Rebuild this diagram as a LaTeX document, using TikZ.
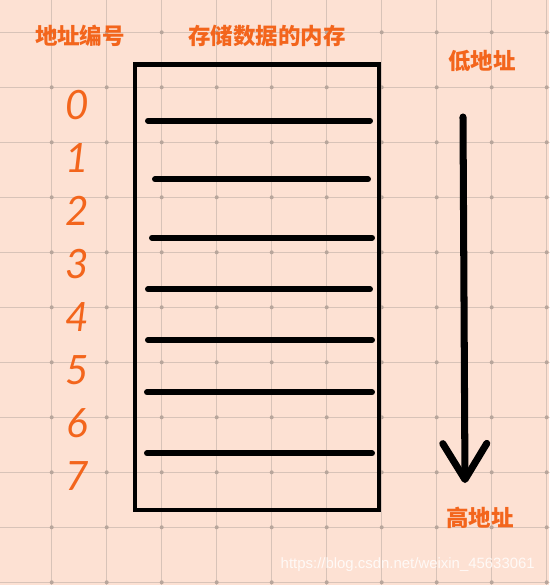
\documentclass[tikz,border=0pt]{standalone}
\usepackage{fontspec}
\newfontfamily\cjk{Noto Sans CJK SC}
\newfontfamily\wmfont{Liberation Sans}
\newfontfamily\digitfont{Lato}
\usetikzlibrary{arrows.meta,positioning}
\definecolor{bgpeach}{HTML}{FDE1D3}
\definecolor{gridgrey}{HTML}{D8C3B8}
\definecolor{addrorange}{HTML}{F3651C}

\begin{document}
\begin{tikzpicture}[x=0.02cm,y=-0.02cm,line cap=round,>={Straight Barb[length=0.72cm,width=0.88cm,round]}]
    \tikzset {
      node distance=1.06cm,
      title/.style={text=addrorange,font=\cjk\bfseries\fontsize{12.8}{14}\selectfont},
      digit/.style={text=addrorange,font=\digitfont\itshape\fontsize{23}{25}\selectfont},
      cell/.style={line width=3.4pt},
      gridline/.style={draw=gridgrey,line width=0.7pt}
    }
    \fill [bgpeach] (0,0) rectangle (549,585);
    \useasboundingbox (0,0) rectangle (549,585);
    % grid paper
    \foreach \i in {0,...,9} \draw [gridline] (51.7+55*\i,0) -- (51.7+55*\i,585);
    \foreach \j in {0,...,10} \draw [gridline] (0,32.3+55*\j) -- (549,32.3+55*\j);
    \foreach \i in {0,...,9} \foreach \j in {0,...,10} \fill [gridgrey!85!black] (51.7+55*\i,32.3+55*\j) circle [radius=2];

    \node [draw,line width=2.8pt,minimum width=4.88cm,minimum height=8.92cm,inner sep=0pt] (mem) at (257,287) {};
    \foreach \a/\b/\c in {148/120.7/370,155/179.3/368,152/237.7/372,148/289.3/370,148/340/372,147/392.3/372,147/453.3/372}
      \draw [cell] (\a,\b) -- (\c,\b);

    \node [title] (numtitle) at (80,36) {地址编号};
    \node [title] (memtitle) at (267,36) {存储数据的内存};
    \node [title] (lowaddr) at (482,61) {低地址};
    \node [title] (highaddr) at (480,518) {高地址};

    \node [digit] (d0) at (77,105) {0};
    \node [digit, below of=d0] (d1) {1};
    \node [digit, below of=d1] (d2) {2};
    \node [digit, below of=d2] (d3) {3};
    \node [digit, below of=d3] (d4) {4};
    \node [digit, below of=d4] (d5) {5};
    \node [digit, below of=d5] (d6) {6};
    \node [digit, below of=d6] (d7) {7};

    \coordinate (arrtop) at (463,117);
    \coordinate (arrtip) at (465,483);
    \draw [->,line width=4pt] (arrtop) -- (arrtip);

    \node [font=\wmfont\fontsize{8.5}{10}\selectfont,text=white,opacity=0.8,anchor=east] (mark) at (541,565) {https://blog.csdn.net/weixin\_45633061};
\end{tikzpicture}
\end{document}
